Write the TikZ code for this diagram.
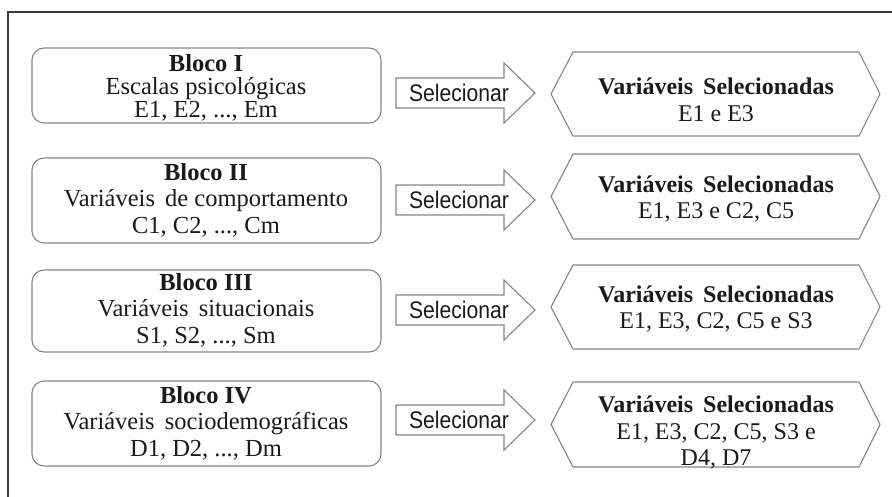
\documentclass[tikz,border=0pt]{standalone}
\usepackage{fontspec}
\setmainfont{Liberation Serif}
\newfontfamily\arrowfont{Liberation Sans}
\definecolor{framecol}{HTML}{3A3A3A}
\definecolor{edgegray}{HTML}{858585}
\definecolor{inkcol}{HTML}{1A1A1A}
\begin{document}
\begin{tikzpicture}[x=1pt,y=-1pt,
  blockbox/.style={draw=edgegray, line width=1.1pt, rounded corners=12pt},
  hexbox/.style={draw=edgegray, line width=1.1pt},
  arrowbox/.style={draw=edgegray, line width=1.1pt},
  blocktext/.style={align=center, text=inkcol, inner sep=0pt,
    font=\fontsize{24.5}{26.5}\selectfont},
  hextext/.style={align=center, text=inkcol, inner sep=0pt,
    font=\fontsize{24}{26.5}\selectfont},
  arrowtext/.style={text=inkcol, inner sep=0pt,
    font=\arrowfont\fontsize{24}{26}\selectfont}]
\useasboundingbox (0,0) rectangle (892,497);

% outer frame (top and left sides only)
\draw[framecol, line width=1.2pt] (8,497) -- (8,12) -- (892,12);

% left column: the four blocks of variables
\draw[blockbox] (32,48) rectangle (381,123);
\draw[blockbox] (32,158) rectangle (381,243);
\draw[blockbox] (32,270) rectangle (381,352);
\draw[blockbox] (32,381) rectangle (381,466);

\node[blocktext, font=\fontsize{24.5}{23}\selectfont] (b1) at (206,88)
  {\textbf{Bloco I}\\Escalas psicológicas\\E1, E2, ..., Em};
\node[blocktext] (b2) at (206,200)
  {\textbf{Bloco II}\\Variáveis\hspace{4pt} de comportamento\\C1, C2, ..., Cm};
\node[blocktext] (b3) at (206,310)
  {\textbf{Bloco III}\\Variáveis\hspace{4pt} situacionais\\S1, S2, ..., Sm};
\node[blocktext] (b4) at (206,423)
  {\textbf{Bloco IV}\\Variáveis\hspace{4pt} sociodemográficas\\D1, D2, ..., Dm};

% middle column: block arrows
\foreach \cy/\nm in {93/s1, 200/s2, 310/s3, 420/s4}{
  \draw[arrowbox] (396,\cy-15) -- (504,\cy-15) -- (504,\cy-30) -- (535,\cy)
    -- (504,\cy+30) -- (504,\cy+15) -- (396,\cy+15) -- cycle;
  \node[arrowtext] (\nm) at (459,\cy) {\scalebox{0.88}[1]{Selecionar}};
}

% right column: hexagons with the selected variables
\foreach \tp/\bt in {52/136, 154/239, 265/349, 382/467}{
  \draw[hexbox] (551,{(\tp+\bt)/2}) -- (573,\tp) -- (859,\tp) -- (880,{(\tp+\bt)/2})
    -- (859,\bt) -- (573,\bt) -- cycle;
}
\node[hextext] (h1) at (716,100)
  {\textbf{Variáveis\hspace{4pt} Selecionadas}\\E1 e E3};
\node[hextext] (h2) at (716,199)
  {\textbf{Variáveis\hspace{4pt} Selecionadas}\\E1, E3 e C2, C5};
\node[hextext] (h3) at (716,309)
  {\textbf{Variáveis\hspace{4pt} Selecionadas}\\E1, E3, C2, C5 e S3};
\node[hextext] (h4) at (716,433)
  {\textbf{Variáveis\hspace{4pt} Selecionadas}\\E1, E3, C2, C5, S3 e\\D4, D7};
\end{tikzpicture}
\end{document}
